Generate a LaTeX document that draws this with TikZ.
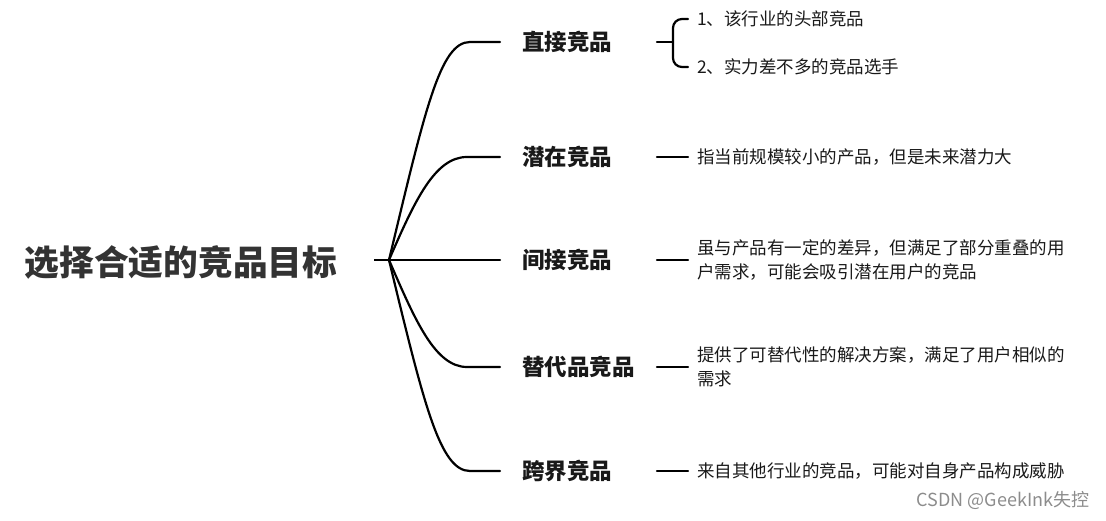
\documentclass[tikz,border=0pt]{standalone}
\usepackage{fontspec}
\setmainfont{Noto Sans CJK SC}
\usetikzlibrary{positioning}

\begin{document}
\begin{tikzpicture}[x=1pt,y=-1pt,
    branch/.style={line width=2.2pt, line cap=round},
    rootlbl/.style={font=\bfseries\fontsize{34.7}{40}\selectfont, text=black!80, inner sep=0},
    lbl/.style={font=\bfseries\fontsize{22.5}{26}\selectfont, text=black!90, anchor=west, inner sep=0},
    desc/.style={font=\fontsize{17.5}{24}\selectfont, text=black!90, anchor=west, inner xsep=9pt, inner ysep=0, align=left},
    wmark/.style={font=\fontsize{18}{20}\selectfont, text=black!45, inner sep=0}]

    \useasboundingbox (0,0) rectangle (1106,521);

    % Root topic
    \node[rootlbl] (root) at (181,262) {选择合适的竞品目标};
    \coordinate (rootend) at (374,260);
    \coordinate (hub) at (389,260);
    \draw[line width=2.8pt] (rootend) -- (hub);

    % Branch labels
    \foreach \y/\nm/\txt in {42/zj/直接竞品, 157/qz/潜在竞品, 260/jj/间接竞品, 367/td/替代品竞品, 471/kj/跨界竞品} {
        \node[lbl] (\nm) at (522,\y) {\txt};
        \coordinate (\nm-in) at (500,\y);
        \coordinate (\nm-out) at (657,\y);
    }

    % Curves from the root
    \draw[branch] (hub) .. controls (425,110) and (440,42) .. (470,42) -- (zj-in);
    \draw[branch] (hub) .. controls (415,200) and (435,157) .. (467,157) -- (qz-in);
    \draw[branch] (hub) -- (jj-in);
    \draw[branch] (hub) .. controls (415,320) and (435,367) .. (467,367) -- (td-in);
    \draw[branch] (hub) .. controls (424,405) and (440,471) .. (470,471) -- (kj-in);

    % Direct competitors
    \node[desc] (zjd1) at (688,19) {1、该行业的头部竞品};
    \node[desc] (zjd2) at (688,67) {2、实力差不多的竞品选手};
    \coordinate (brace) at (673,42);
    \draw[branch] (zj-out) -- (brace);
    \draw[branch, rounded corners=9pt] (zjd1.west) -| (brace) |- (zjd2.west);

    % Other descriptions
    \node[desc] (qzd) at (688,157) {指当前规模较小的产品，但是未来潜力大};
    \node[desc] (jjd) at (688,260) {虽与产品有一定的差异，但满足了部分重叠的用\\户需求，可能会吸引潜在用户的竞品};
    \node[desc] (tdd) at (688,367) {提供了可替代性的解决方案，满足了用户相似的\\需求};
    \node[desc] (kjd) at (688,471) {来自其他行业的竞品，可能对自身产品构成威胁};
    \foreach \nm in {qz, jj, td, kj} {
        \draw[branch] (\nm-out) -- (\nm d.west);
    }

    % Watermark
    \node[wmark] (wm) at (1003,500) {CSDN @GeekInk失控};

\end{tikzpicture}
\end{document}
